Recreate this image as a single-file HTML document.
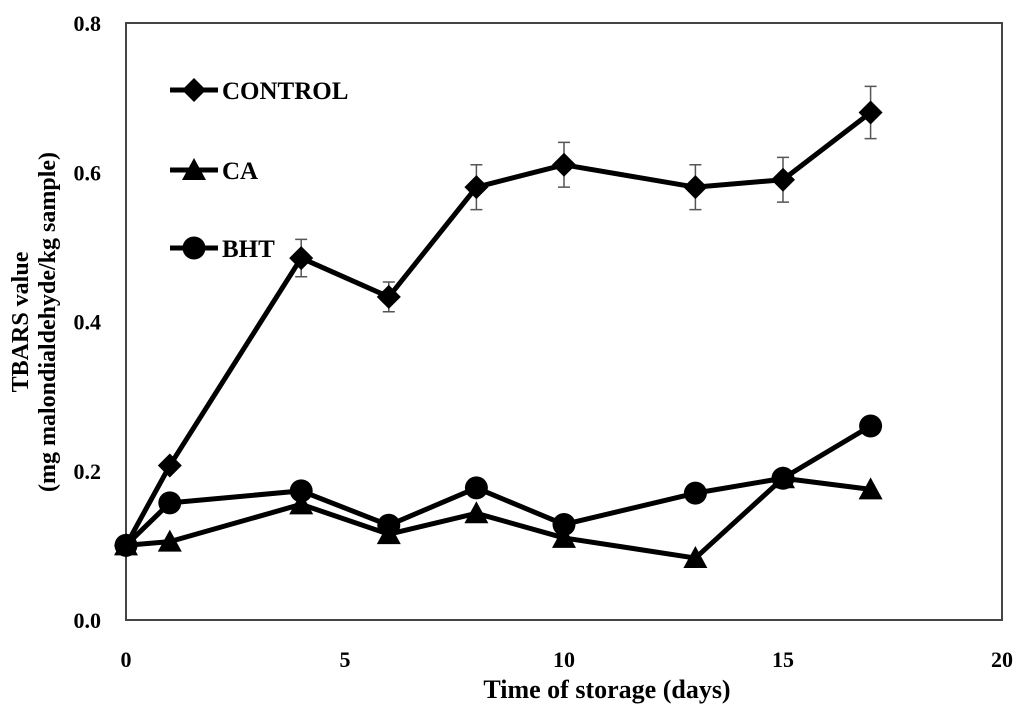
<!DOCTYPE html>
<html><head><meta charset="utf-8"><style>
body{margin:0;background:#fff;}
svg text{font-family:"Liberation Serif",serif;font-weight:bold;fill:#000;}
</style></head><body>
<svg id="chart" width="1024" height="716">
<rect x="126" y="23" width="876" height="597" fill="none" stroke="#444" stroke-width="2"/>
<g id="g"></g>
<text x="607" y="698" font-size="26" text-anchor="middle">Time of storage (days)</text>
<text transform="translate(28,322) rotate(-90)" font-size="24" text-anchor="middle">TBARS value</text>
<text transform="translate(55,322) rotate(-90)" font-size="24" text-anchor="middle">(mg malondialdehyde/kg sample)</text>
</svg>
<script>
const days=[0,1,4,6,8,10,13,15,17];
const control=[0.1,0.207,0.485,0.433,0.58,0.61,0.58,0.59,0.68];
const controlErr=[0,0,0.025,0.02,0.03,0.03,0.03,0.03,0.035];
const ca=[0.1,0.105,0.155,0.115,0.143,0.11,0.083,0.19,0.175];
const bht=[0.1,0.157,0.173,0.127,0.177,0.128,0.17,0.19,0.26];
const xTicks=[0,5,10,15,20];
const yTicks=[0,0.2,0.4,0.6,0.8];
const X=v=>126+v*43.8, Y=v=>620-v*746.25;
const NS="http://www.w3.org/2000/svg", g=document.getElementById('g');
function mk(t,a){const e=document.createElementNS(NS,t);for(const k in a)e.setAttribute(k,a[k]);g.appendChild(e);return e;}
xTicks.forEach(t=>{const e=mk('text',{x:X(t),y:667,'font-size':22,'text-anchor':'middle'});e.textContent=t;

});
yTicks.forEach(t=>{const e=mk('text',{x:101,y:Y(t)+8,'font-size':22,'text-anchor':'end'});e.textContent=t.toFixed(1);

});
function marker(type,cx,cy,name){let e;
if(type==='d')e=mk('polygon',{points:`${cx},${cy-12} ${cx+12},${cy} ${cx},${cy+12} ${cx-12},${cy}`});
else if(type==='t')e=mk('polygon',{points:`${cx},${cy-12} ${cx+12},${cy+10} ${cx-12},${cy+10}`});
else e=mk('circle',{cx:cx,cy:cy,r:11.5});
e.setAttribute('fill','#000');

}
function series(vals,type,name){
const l=mk('polyline',{points:vals.map((v,i)=>X(days[i])+','+Y(v)).join(' '),fill:'none',stroke:'#000','stroke-width':5,'stroke-linejoin':'round'});


vals.forEach((v,i)=>marker(type,X(days[i]),Y(v),name+'-point'));}
controlErr.forEach((e,i)=>{if(!e)return;const x=X(days[i]),y1=Y(control[i]+e),y2=Y(control[i]-e);
const p=mk('path',{d:`M${x},${y1}V${y2}M${x-6},${y1}H${x+6}M${x-6},${y2}H${x+6}`,stroke:'#555','stroke-width':1.5,fill:'none'});

});
series(ca,'t','ca');
series(bht,'c','bht');
series(control,'d','control');
[['CONTROL','d',90],['CA','t',170],['BHT','c',248]].forEach(([n,t,y])=>{
const l=mk('line',{x1:170,x2:218,y1:y,y2:y,stroke:'#000','stroke-width':5});


marker(t,194,y,'legend-marker');
const e=mk('text',{x:222,y:y+9,'font-size':25});e.textContent=n;

});
</script>
</body></html>
